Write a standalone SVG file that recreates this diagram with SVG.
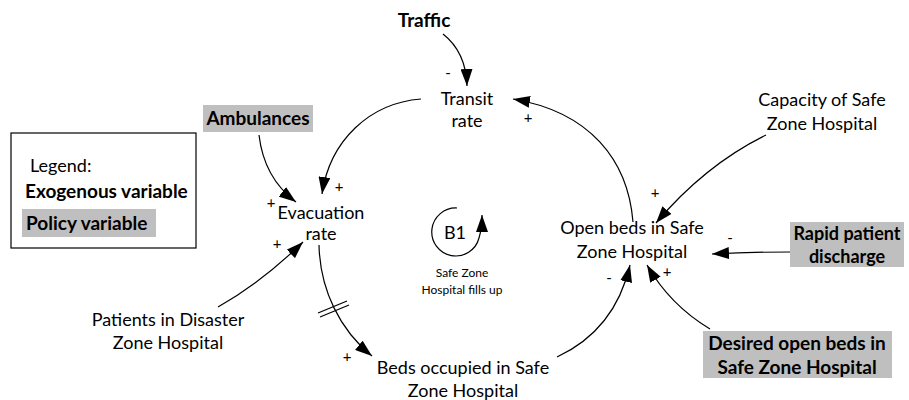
<svg xmlns="http://www.w3.org/2000/svg" width="909" height="400" viewBox="0 0 909 400">
<style>
text{font-family:Lato,"Open Sans",sans-serif;fill:#000;}
.t{font-size:18px;text-anchor:middle;}
.b{font-size:19px;font-weight:bold;text-anchor:middle;}
.s{font-size:15px;text-anchor:middle;}
.sm{font-size:12px;text-anchor:middle;}
.box{fill:#bfbfbf;stroke:none;}
.c{fill:none;stroke:#000;stroke-width:1.2;marker-end:url(#ah);}
</style>
<defs>
<marker id="ah" markerUnits="userSpaceOnUse" markerWidth="18" markerHeight="12" refX="17" refY="6" orient="auto">
<path d="M0,0 L17,6 L0,12 z" fill="#000"/>
</marker>
</defs>
<rect width="909" height="400" fill="#fff"/>
<g id="legend">
<rect x="11" y="133" width="185" height="115" fill="none" stroke="#000" stroke-width="1.2"/>
<text x="30" y="172" style="font-size:18px">Legend:</text>
<text x="25" y="198" style="font-size:19px;font-weight:bold">Exogenous variable</text>
<rect class="box" x="22" y="209" width="134" height="28"/>
<text x="26" y="230" style="font-size:19px;font-weight:bold">Policy variable</text>
</g>
<g id="connectors">
<path class="c" d="M443,34 Q466,52 467,86"/>
<path class="c" d="M421,99 C370,103 330,140 322,194"/>
<path class="c" d="M259,135 Q264,178 296,202"/>
<path class="c" d="M218,307 Q262,282 303,242"/>
<path class="c" d="M319,245 C320,290 340,330 372,356"/>
<path class="c" d="M557,357 Q615,330 630,265"/>
<path class="c" d="M710,329 Q670,305 647,265"/>
<path class="c" d="M766,135 Q705,165 656,223"/>
<path class="c" d="M633,222 C628,160 590,112 513,99"/>
<path class="c" d="M790,252 Q750,252 712,254"/>
<path fill="none" stroke="#000" stroke-width="1.2" d="M318,313 L347,301 M320,317 L349,305"/>
</g>
<g id="polarity" class="s">
<text x="448" y="78">-</text>
<text x="339" y="192">+</text>
<text x="271" y="208">+</text>
<text x="277" y="249">+</text>
<text x="347" y="362">+</text>
<text x="528" y="123">+</text>
<text x="655" y="198">+</text>
<text x="730" y="243">-</text>
<text x="609" y="283">-</text>
<text x="667" y="277">+</text>
</g>
<g id="traffic"><text class="b" x="424" y="27">Traffic</text></g>
<g id="transit"><text class="t" x="467" y="105">Transit</text><text class="t" x="467" y="127">rate</text></g>
<g id="ambulances"><rect class="box" x="203" y="105" width="110" height="27"/><text class="b" x="258" y="125">Ambulances</text></g>
<g id="evacuation"><text class="t" x="321" y="219">Evacuation</text><text class="t" x="321" y="240">rate</text></g>
<g id="patients"><text class="t" x="168" y="326">Patients in Disaster</text><text class="t" x="168" y="349">Zone Hospital</text></g>
<g id="beds"><text class="t" x="463" y="374">Beds occupied in Safe</text><text class="t" x="463" y="397">Zone Hospital</text></g>
<g id="openbeds"><text class="t" x="632" y="234">Open beds in Safe</text><text class="t" x="632" y="258">Zone Hospital</text></g>
<g id="capacity"><text class="t" x="822" y="106">Capacity of Safe</text><text class="t" x="822" y="130">Zone Hospital</text></g>
<g id="rapid"><rect class="box" x="790" y="222" width="114" height="45"/><text class="b" x="847" y="240" style="font-size:18px">Rapid patient</text><text class="b" x="847" y="263" style="font-size:18px">discharge</text></g>
<g id="desired"><rect class="box" x="703" y="331" width="189" height="47"/><text class="b" x="797" y="350">Desired open beds in</text><text class="b" x="797" y="374">Safe Zone Hospital</text></g>
<g id="b1">
<path fill="none" stroke="#000" stroke-width="1.2" marker-end="url(#ah)" d="M457,208 A24,24 0 1 0 479,238 Q482,228 482,215"/>
<text class="t" x="455" y="239">B1</text>
<text class="sm" x="462" y="277">Safe Zone</text>
<text class="sm" x="462" y="294">Hospital fills up</text>
</g>
</svg>
